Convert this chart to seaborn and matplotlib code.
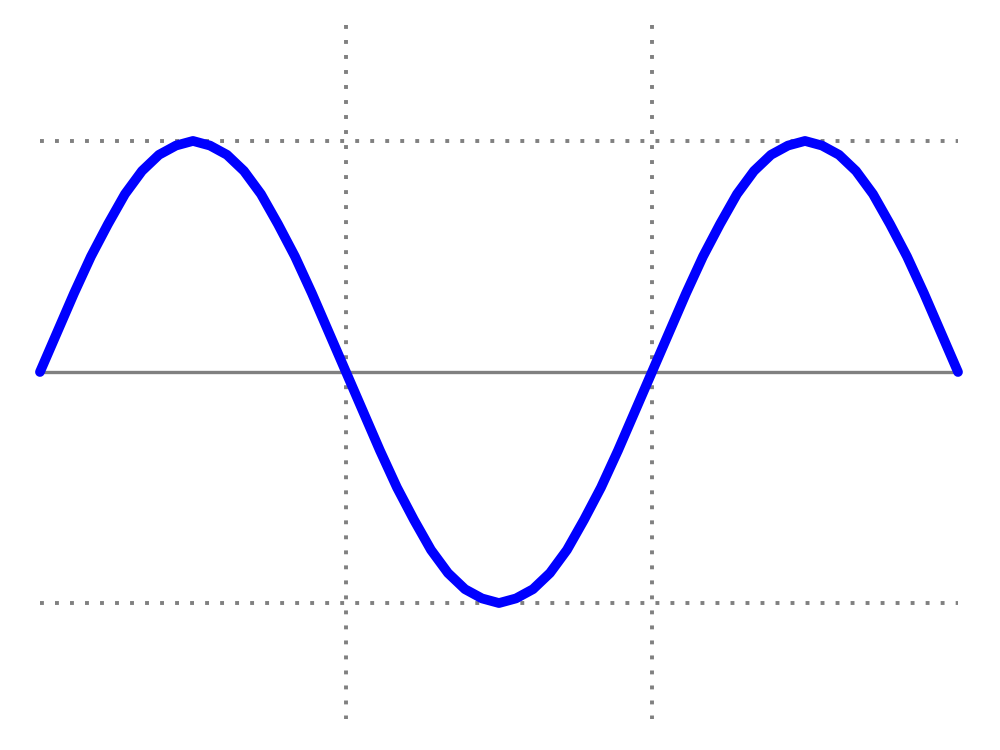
import numpy as np
import pandas as pd
import matplotlib
matplotlib.use("Agg")
import matplotlib.pyplot as plt
import seaborn as sns

# Phase in degrees (every 10 deg) and amplitude
phase = list(range(0, 541, 10))
half_up = [0.0, 0.17, 0.34, 0.5, 0.64, 0.77, 0.87, 0.94, 0.98,
           1.0, 0.98, 0.94, 0.87, 0.77, 0.64, 0.5, 0.34, 0.17]
half_down = [0.0, -0.17, -0.34, -0.5, -0.64, -0.77, -0.87, -0.94, -0.98,
             -1.0, -0.98, -0.94, -0.87, -0.77, -0.64, -0.5, -0.34, -0.17]
amplitude = half_up + half_down + half_up + [0.0]

# Guide lines
zero_crossings = [180, 360]
peak_levels = [1.0, -1.0]

df = pd.DataFrame({"phase": phase, "amplitude": amplitude})

sns.set_style("white")
fig = plt.figure(figsize=(10, 7.5), dpi=100)
ax = fig.add_axes([0, 0, 1, 1])

grey = "#808080"
dotted = (0, (1, 2.86))

for lvl in peak_levels:
    ax.plot([phase[0], phase[-1]], [lvl, lvl], color=grey, lw=2.8,
            linestyle=dotted, dash_capstyle="butt", zorder=1)
for xc in zero_crossings:
    ax.plot([xc, xc], [1.5, -1.5], color=grey, lw=2.8,
            linestyle=dotted, dash_capstyle="butt", zorder=1)

# zero axis
ax.plot([phase[0], phase[-1]], [0, 0], color=grey, lw=2.4, zorder=2)

sns.lineplot(data=df, x="phase", y="amplitude", ax=ax, color="#0000ff",
             lw=7, solid_capstyle="round", solid_joinstyle="round",
             sort=False, zorder=3)

ax.set_xlim(-23.5, 564.7)
ax.set_ylim(-1.636, 1.610)
ax.axis("off")

fig.savefig("out.png", dpi=100, facecolor="white")
